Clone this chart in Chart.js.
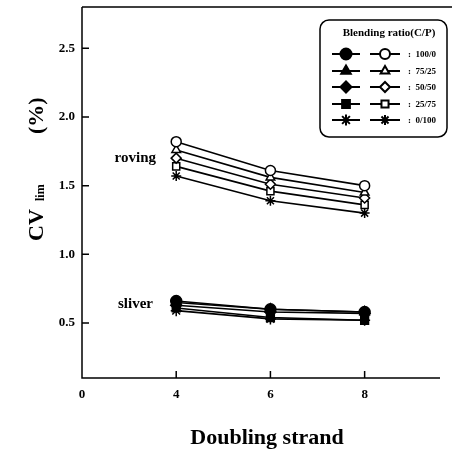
<!DOCTYPE html>
<html>
<head>
<meta charset="utf-8">
<script src="https://cdn.jsdelivr.net/npm/chart.js@4.4.0/dist/chart.umd.min.js"></script>
<style>
  html, body { margin: 0; padding: 0; background: #fff; }
  #wrap { width: 454px; height: 451px; }
</style>
</head>
<body>
<div id="wrap"><canvas id="cvChart"></canvas></div>
<script>
// doubling strands (drawn at equal spacing, like the original)
var doublingLabels = ['0', '4', '6', '8'];
var doublingPos = [1, 2, 3];
var ratios = ['100/0', '75/25', '50/50', '25/75', '0/100'];
var shapes = ['circle', 'triangle', 'rectRot', 'rect', 'star'];

var sliver = [
  [0.66, 0.60, 0.58],
  [0.65, 0.60, 0.58],
  [0.63, 0.58, 0.57],
  [0.61, 0.54, 0.52],
  [0.59, 0.53, 0.52]
];
var roving = [
  [1.82, 1.61, 1.50],
  [1.76, 1.56, 1.45],
  [1.70, 1.51, 1.41],
  [1.64, 1.46, 1.36],
  [1.57, 1.39, 1.30]
];
var yTicks = [0.5, 1.0, 1.5, 2.0, 2.5];

var serif = '"Liberation Serif", "DejaVu Serif", serif';

function pts(vals) {
  return vals.map(function (v, i) { return { x: doublingPos[i], y: v }; });
}

var datasets = [];
ratios.forEach(function (r, i) {
  datasets.push({
    label: 'sliver ' + r,
    data: pts(sliver[i]),
    borderColor: '#000',
    backgroundColor: '#000',
    pointBorderColor: '#000',
    pointBackgroundColor: '#000',
    pointStyle: shapes[i],
    pointRadius: 5.5,
    pointBorderWidth: 1.5,
    borderWidth: 1.6,
    fill: false
  });
});
ratios.forEach(function (r, i) {
  datasets.push({
    label: 'roving ' + r,
    data: pts(roving[i]),
    borderColor: '#000',
    backgroundColor: '#fff',
    pointBorderColor: '#000',
    pointBackgroundColor: i === 4 ? '#000' : '#fff',
    pointStyle: shapes[i],
    pointRadius: 5,
    pointBorderWidth: 1.5,
    borderWidth: 1.6,
    fill: false
  });
});

var decor = {
  id: 'decor',
  afterDraw: function (chart) {
    var ctx = chart.ctx;
    var xs = chart.scales.x, ys = chart.scales.y;
    var a = chart.chartArea;
    ctx.save();
    ctx.strokeStyle = '#000';
    ctx.lineWidth = 1.5;
    // frame: left, bottom, top
    ctx.beginPath();
    ctx.moveTo(a.left, a.top); ctx.lineTo(452, a.top);
    ctx.moveTo(a.left, a.top); ctx.lineTo(a.left, a.bottom);
    ctx.lineTo(a.right, a.bottom);
    ctx.stroke();
    // inward ticks
    ctx.beginPath();
    ys.ticks.forEach(function (t) {
      var y = ys.getPixelForValue(t.value);
      ctx.moveTo(a.left, y); ctx.lineTo(a.left + 7, y);
    });
    xs.ticks.forEach(function (t) {
      if (t.value === 0) return;
      var x = xs.getPixelForValue(t.value);
      ctx.moveTo(x, a.bottom); ctx.lineTo(x, a.bottom - 7);
    });
    ctx.stroke();

    // group labels
    ctx.fillStyle = '#000';
    ctx.font = 'bold 15px ' + serif;
    ctx.textAlign = 'right';
    ctx.textBaseline = 'middle';
    ctx.fillText('roving', 156, ys.getPixelForValue(1.70));
    ctx.fillText('sliver', 153, ys.getPixelForValue(0.64));

    // x title
    ctx.textAlign = 'center';
    ctx.font = 'bold 22px ' + serif;
    ctx.fillText('Doubling strand', 267, 438);

    // y title with subscript (rotated: u runs upward on screen)
    ctx.save();
    ctx.rotate(-Math.PI / 2);
    ctx.textAlign = 'left';
    ctx.textBaseline = 'middle';
    ctx.font = 'bold 22px ' + serif;
    ctx.fillText('CV', -241, 37);
    ctx.font = 'bold 12px ' + serif;
    ctx.fillText('lim', -201, 41);
    ctx.font = 'bold 22px ' + serif;
    ctx.fillText('(%)', -134, 37);
    ctx.restore();

    // legend box
    var bx = 320, by = 20, bw = 127, bh = 117, rad = 9;
    ctx.lineWidth = 1.5;
    ctx.beginPath();
    ctx.moveTo(bx + rad, by);
    ctx.arcTo(bx + bw, by, bx + bw, by + bh, rad);
    ctx.arcTo(bx + bw, by + bh, bx, by + bh, rad);
    ctx.arcTo(bx, by + bh, bx, by, rad);
    ctx.arcTo(bx, by, bx + bw, by, rad);
    ctx.closePath();
    ctx.fillStyle = '#fff';
    ctx.fill();
    ctx.stroke();
    ctx.fillStyle = '#000';
    ctx.font = 'bold 11px ' + serif;
    ctx.textAlign = 'center';
    ctx.fillText('Blending ratio(C/P)', 389, 33);
    var rows = [54, 71, 87, 104, 120];
    ratios.forEach(function (r, i) {
      var y = rows[i];
      ctx.lineWidth = 2;
      ctx.strokeStyle = '#000';
      ctx.beginPath();
      ctx.moveTo(332, y); ctx.lineTo(360, y);
      ctx.moveTo(370, y); ctx.lineTo(400, y);
      ctx.stroke();
      ctx.fillStyle = '#000';
      Chart.helpers.drawPoint(ctx, { pointStyle: shapes[i], radius: 5.5, borderWidth: 1.5 }, 346, y);
      ctx.fillStyle = i === 4 ? '#000' : '#fff';
      Chart.helpers.drawPoint(ctx, { pointStyle: shapes[i], radius: 5, borderWidth: 1.5 }, 385, y);
      ctx.fillStyle = '#000';
      ctx.textAlign = 'left';
      ctx.font = 'bold 9px ' + serif;
      ctx.fillText(':  ' + r, 408, y + 1);
    });
    ctx.restore();
  }
};

new Chart(document.getElementById('cvChart'), {
  type: 'line',
  data: { datasets: datasets },
  options: {
    responsive: true,
    maintainAspectRatio: false,
    animation: false,
    layout: { padding: { top: 7, right: 14, left: 0, bottom: 0 } },
    plugins: { legend: { display: false }, tooltip: { enabled: false } },
    scales: {
      x: {
        type: 'linear',
        min: 0,
        max: 3.8,
        afterFit: function (s) { s.height = 73; s.paddingLeft = 0; s.paddingRight = 0; },
        afterBuildTicks: function (s) {
          s.ticks = doublingLabels.map(function (l, i) { return { value: i }; });
        },
        grid: { display: false, drawTicks: false },
        border: { display: false },
        ticks: {
          color: '#000',
          padding: 9,
          font: { family: serif, size: 13, weight: 'bold' },
          callback: function (v) { return doublingLabels[v]; }
        }
      },
      y: {
        min: 0.1,
        max: 2.8,
        afterFit: function (s) { s.width = 82; s.paddingTop = 0; s.paddingBottom = 0; },
        afterBuildTicks: function (s) {
          s.ticks = yTicks.map(function (v) { return { value: v }; });
        },
        grid: { display: false, drawTicks: false },
        border: { display: false },
        ticks: {
          color: '#000',
          padding: 7,
          font: { family: serif, size: 13, weight: 'bold' },
          callback: function (v) { return v.toFixed(1); }
        }
      }
    }
  },
  plugins: [decor]
});
</script>
</body>
</html>
